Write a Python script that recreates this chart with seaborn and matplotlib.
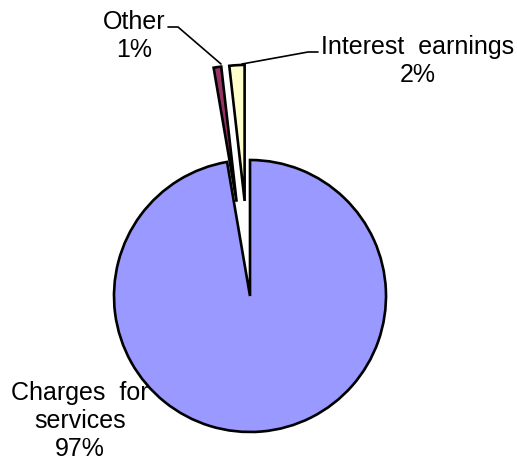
import matplotlib
matplotlib.use("Agg")
import seaborn as sns
from matplotlib import pyplot as plt

# data
labels = ["Charges for services", "Other", "Interest earnings"]
values = [97.3, 0.9, 1.8]
pct_labels = ["97%", "1%", "2%"]

sns.set_style("white")
plt.rcParams['font.family'] = ['Liberation Sans', 'DejaVu Sans']

colors = ["#9999FF", "#993366", "#FFFFCC"]

H = 465
R = 136
# explode is in data units for pie(), so scale by radius
explode = [0, 0.7 * R, 0.7 * R]

fig = plt.figure(figsize=(5.17, 4.65), dpi=100)
ax = fig.add_axes([0, 0, 1, 1])

# pie in pixel-sized units
wedges, _ = ax.pie(values, colors=colors, explode=explode, startangle=90,
                   counterclock=False, radius=R, center=(250, H - 296),
                   wedgeprops=dict(edgecolor="black", linewidth=1.9))
ax.set_xlim(0, 517)
ax.set_ylim(0, H)
ax.set_aspect("equal")
ax.axis("off")

# labels
txt = dict(fontsize=18, ha="center", va="center", color="black", linespacing=1.2)
ax.text(80, H - 421, "Charges  for\nservices\n" + pct_labels[0], **txt)
ax.text(134, H - 36, "Other\n" + pct_labels[1], **txt)
ax.text(418, H - 61, "Interest  earnings\n" + pct_labels[2], **txt)

# leader lines
ax.plot([168, 178, 221], [H - 27, H - 27, H - 64], color="black", lw=1.2)
ax.plot([318, 308, 242], [H - 52, H - 52, H - 64], color="black", lw=1.2)

fig.savefig("out.png", dpi=100)
